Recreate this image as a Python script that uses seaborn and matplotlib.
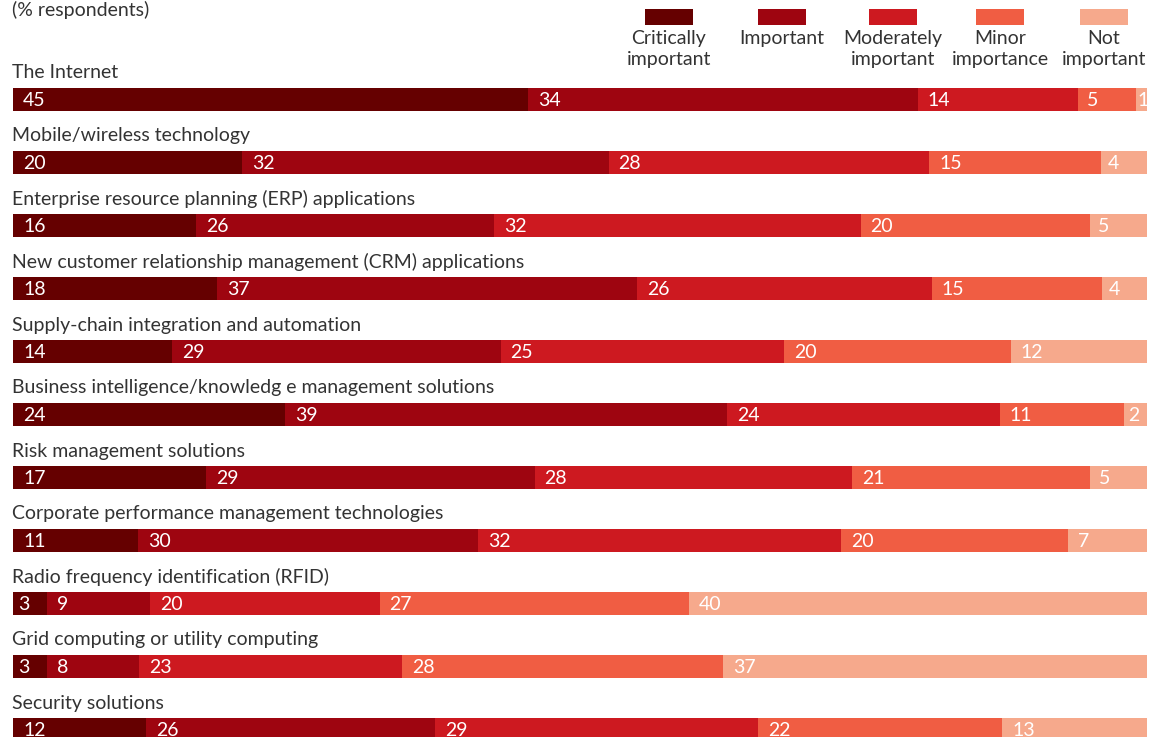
import numpy as np
import pandas as pd
import matplotlib
matplotlib.use("Agg")
import matplotlib.pyplot as plt
from matplotlib.patches import Rectangle
import seaborn as sns

categories = [
    "The Internet",
    "Mobile/wireless technology",
    "Enterprise resource planning (ERP) applications",
    "New customer relationship management (CRM) applications",
    "Supply-chain integration and automation",
    "Business intelligence/knowledg e management solutions",
    "Risk management solutions",
    "Corporate performance management technologies",
    "Radio frequency identification (RFID)",
    "Grid computing or utility computing",
    "Security solutions",
]
critically_important = [45, 20, 16, 18, 14, 24, 17, 11, 3, 3, 12]
important = [34, 32, 26, 37, 29, 39, 29, 30, 9, 8, 26]
moderately_important = [14, 28, 32, 26, 25, 24, 28, 32, 20, 23, 29]
minor_importance = [5, 15, 20, 15, 20, 11, 21, 20, 27, 28, 22]
not_important = [1, 4, 5, 4, 12, 2, 5, 7, 40, 37, 13]

series_names = ["Critically\nimportant", "Important", "Moderately\nimportant",
                "Minor\nimportance", "Not\nimportant"]
colors = ["#650000", "#9e0510", "#cd1920", "#f05d43", "#f6a98c"]

df = pd.DataFrame({
    "category": categories,
    "s0": critically_important,
    "s1": important,
    "s2": moderately_important,
    "s3": minor_importance,
    "s4": not_important,
})
cols = ["s0", "s1", "s2", "s3", "s4"]
raw = df[cols]
# each bar spans the full width: shares of the row total
share = raw.div(raw.sum(axis=1), axis=0) * 100
cum = share.cumsum(axis=1)
starts = cum - share

sns.set_theme(style="white")
plt.rcParams["font.family"] = ["Lato", "DejaVu Sans"]

W, H = 1161, 737
fig = plt.figure(figsize=(W / 100, H / 100), dpi=100)
x0, x1 = 13, 1147
ax = fig.add_axes([x0 / W, 0, (x1 - x0) / W, 1])

bar_h = 23 / 63
# overlay cumulative totals, longest first, to form the stacks
for i in range(len(cols) - 1, -1, -1):
    sns.barplot(x=cum[cols[i]].values, y=df["category"], color=colors[i],
                orient="h", width=bar_h, saturation=1, linewidth=0, ax=ax)

ax.set_xlim(0, 100)
top_row = 99.5 / 63
ax.set_ylim((H - 99.5) / 63, -top_row)
ax.axis("off")

fs = 14
text_col = "#333333"
px = 100 / (x1 - x0)  # data units per pixel
for r, cat in enumerate(categories):
    ax.text(-1 * px, r - 26.5 / 63, cat, ha="left", va="center",
            fontsize=fs, color=text_col, clip_on=False)
    for i, c in enumerate(cols):
        w = share.loc[r, c]
        off = min(10 * px, 0.15 * w)
        ax.text(starts.loc[r, c] + off, r + 0.01, str(raw.loc[r, c]),
                ha="left", va="center", fontsize=fs, color="white")

fig.text(12 / W, 1 - 0.5 / H, "(% respondents)", ha="left", va="top",
         fontsize=fs, color=text_col)

# legend: swatch above a centred caption
leg_centers = [669, 782, 893, 1000, 1104]
for cx, name, col in zip(leg_centers, series_names, colors):
    fig.add_artist(Rectangle(((cx - 24) / W, 1 - 25 / H), 48 / W, 16 / H,
                             transform=fig.transFigure, color=col, lw=0))
    fig.text(cx / W, 1 - 30 / H, name, ha="center", va="top",
             fontsize=fs, color=text_col, linespacing=1.25)

fig.savefig("out.png", dpi=100)
